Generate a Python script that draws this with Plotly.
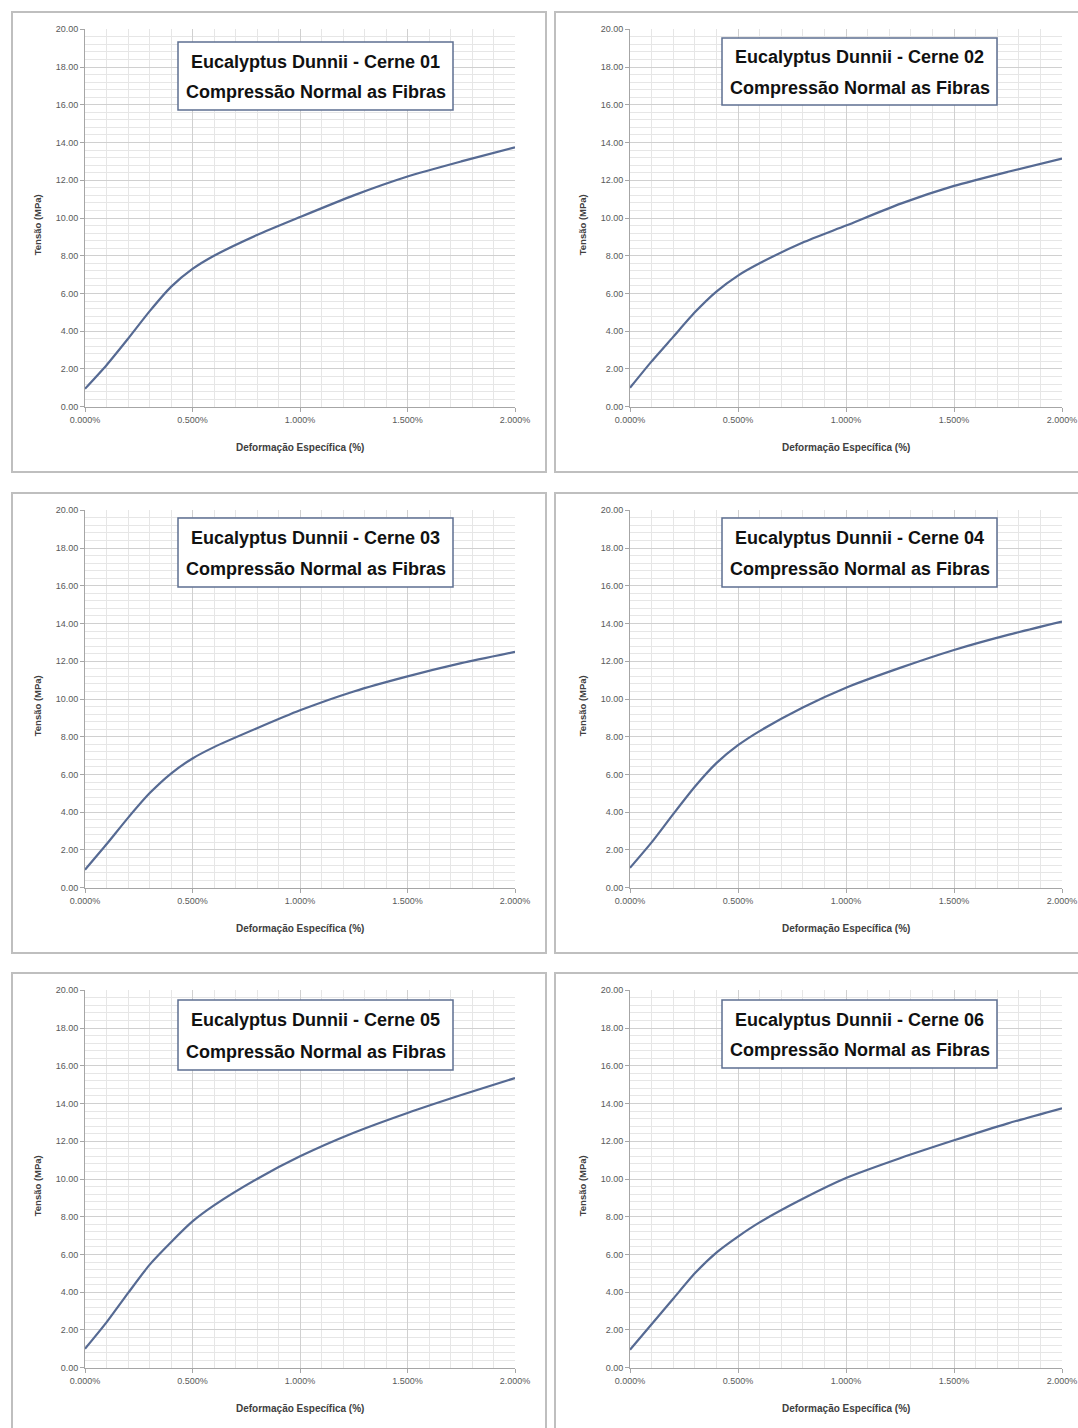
import plotly.graph_objects as go

# ---------------- data ----------------
strain = [0, 0.1, 0.2, 0.3, 0.4, 0.5, 0.6, 0.8, 1.0, 1.25, 1.5, 1.75, 2.0]  # %

cerne_01 = [0.95, 2.2, 3.6, 5.05, 6.35, 7.3, 8.0, 9.1, 10.05, 11.2, 12.2, 13.0, 13.75]
cerne_02 = [1.0, 2.4, 3.7, 5.0, 6.1, 6.95, 7.6, 8.7, 9.6, 10.75, 11.7, 12.45, 13.15]
cerne_03 = [0.95, 2.3, 3.7, 5.0, 6.05, 6.85, 7.45, 8.45, 9.4, 10.4, 11.2, 11.9, 12.5]
cerne_04 = [1.05, 2.4, 3.9, 5.35, 6.6, 7.55, 8.3, 9.55, 10.6, 11.65, 12.6, 13.4, 14.1]
cerne_05 = [1.0, 2.4, 3.95, 5.45, 6.65, 7.75, 8.6, 10.0, 11.2, 12.45, 13.5, 14.45, 15.35]
cerne_06 = [0.95, 2.3, 3.65, 5.0, 6.1, 6.95, 7.7, 8.95, 10.05, 11.1, 12.05, 12.95, 13.75]

series = [cerne_01, cerne_02, cerne_03, cerne_04, cerne_05, cerne_06]
title_line1 = ["Eucalyptus Dunnii - Cerne 01", "Eucalyptus Dunnii - Cerne 02", "Eucalyptus Dunnii - Cerne 03",
               "Eucalyptus Dunnii - Cerne 04", "Eucalyptus Dunnii - Cerne 05", "Eucalyptus Dunnii - Cerne 06"]
title_line2 = "Compressão Normal as Fibras"
x_tickvals = [0, 0.5, 1.0, 1.5, 2.0]
x_ticktext = ["0.000%", "0.500%", "1.000%", "1.500%", "2.000%"]
y_tickvals = [0, 2, 4, 6, 8, 10, 12, 14, 16, 18, 20]
y_ticktext = ["0.00", "2.00", "4.00", "6.00", "8.00", "10.00", "12.00", "14.00", "16.00", "18.00", "20.00"]
x_title = "Deformação Específica (%)"
y_title = "Tensão (MPa)"

# ---------------- layout geometry (pixels) ----------------
W, H = 1078, 1428
col_plot = [(85, 515), (630, 1062)]
row_plot = [(29.3, 406.7), (510.3, 887.7), (990.3, 1367.7)]
col_panel = [(12, 546), (555, 1085)]
row_panel = [(12, 472), (493, 953), (973, 1440)]
# title boxes: (x0, x1, y0, y1)
title_boxes = [(178, 453, 42, 110), (722, 997, 38, 105), (178, 453, 518, 587),
               (722, 997, 518, 587), (178, 453, 1000, 1070), (722, 997, 1000, 1068)]


def fx(p):
    return p / W


def fy(p):
    return 1 - p / H


fig = go.Figure()
shapes = []
annotations = []

for i, ys in enumerate(series):
    r, c = divmod(i, 2)
    n = i + 1
    sfx = "" if n == 1 else str(n)
    xa, ya = "x" + sfx, "y" + sfx
    fig.add_trace(go.Scatter(
        x=strain, y=ys, mode="lines",
        line=dict(color="#566a93", width=2.2, shape="spline", smoothing=0.6),
        xaxis=xa, yaxis=ya, showlegend=False, hoverinfo="x+y"))

    x0, x1 = col_plot[c]
    y0, y1 = row_plot[r]
    axis_common = dict(showline=True, linecolor="#A6A6A6", linewidth=1, ticks="outside", ticklen=4,
                       tickcolor="#A6A6A6", automargin=False,
                       tickfont=dict(family="Liberation Sans, Arial", size=9, color="#595959"),
                       showgrid=True, gridcolor="#D0D0D0", gridwidth=1, zeroline=False, fixedrange=True)
    fig.layout["xaxis" + sfx] = dict(
        axis_common, domain=[fx(x0), fx(x1)], range=[0, 2], tickvals=x_tickvals, ticktext=x_ticktext,
        anchor=ya,
        minor=dict(dtick=0.1, showgrid=True, gridcolor="#E6E6E6", gridwidth=1, ticks=""))
    fig.layout["yaxis" + sfx] = dict(
        axis_common, domain=[fy(y1), fy(y0)], range=[0, 20], tickvals=y_tickvals, ticktext=y_ticktext,
        anchor=xa,
        minor=dict(dtick=0.4, showgrid=True, gridcolor="#E6E6E6", gridwidth=1, ticks=""))

    # panel border
    px0, px1 = col_panel[c]
    py0, py1 = row_panel[r]
    shapes.append(dict(type="rect", xref="paper", yref="paper", x0=fx(px0), x1=fx(px1), y0=fy(py1), y1=fy(py0),
                       line=dict(color="#BFBFBF", width=2), fillcolor="rgba(0,0,0,0)", layer="below"))

    # title box
    bx0, bx1, by0, by1 = title_boxes[i]
    shapes.append(dict(type="rect", xref="paper", yref="paper", x0=fx(bx0), x1=fx(bx1), y0=fy(by1), y1=fy(by0),
                       line=dict(color="#5d6f91", width=1.5), fillcolor="white", layer="above"))
    bh = by1 - by0
    for k, txt in enumerate([title_line1[i], title_line2]):
        annotations.append(dict(text=txt, xref="paper", yref="paper", x=fx((bx0 + bx1) / 2),
                                y=fy(by0 + bh * (0.29 if k == 0 else 0.74)),
                                xanchor="center", yanchor="middle", showarrow=False,
                                font=dict(family="Liberation Sans, Arial", size=18, color="#111111", weight="bold")))
    # axis titles
    annotations.append(dict(text=x_title, xref="paper", yref="paper", x=fx((x0 + x1) / 2), y=fy(y1 + 41),
                            xanchor="center", yanchor="middle", showarrow=False,
                            font=dict(family="Liberation Sans, Arial", size=10, color="#404040", weight="bold")))
    annotations.append(dict(text=y_title, xref="paper", yref="paper", x=fx(x0 - 48), y=fy(y0 + 196),
                            xanchor="center", yanchor="middle", showarrow=False, textangle=-90,
                            font=dict(family="Liberation Sans, Arial", size=9.5, color="#404040", weight="bold")))

fig.update_layout(template="none", width=W, height=H, margin=dict(l=0, r=0, t=0, b=0, autoexpand=False),
                  paper_bgcolor="white", plot_bgcolor="white",
                  shapes=shapes, annotations=annotations, showlegend=False)

fig.write_html("out.html")
